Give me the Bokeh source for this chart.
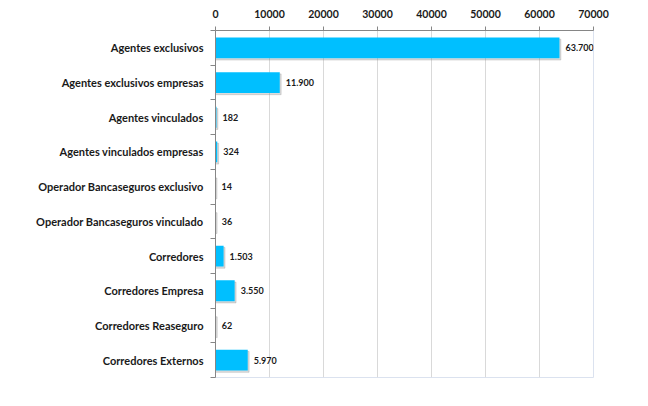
from bokeh.plotting import figure
from bokeh.models import Range1d, FixedTicker, ColumnDataSource
from bokeh.embed import file_html
from bokeh.resources import INLINE
from bokeh.core.properties import value

categories = [
    "Agentes exclusivos",
    "Agentes exclusivos empresas",
    "Agentes vinculados",
    "Agentes vinculados empresas",
    "Operador Bancaseguros exclusivo",
    "Operador Bancaseguros vinculado",
    "Corredores",
    "Corredores Empresa",
    "Corredores Reaseguro",
    "Corredores Externos",
]
values = [63700, 11900, 182, 324, 14, 36, 1503, 3550, 62, 5970]
x_ticks = [0, 10000, 20000, 30000, 40000, 50000, 60000, 70000]

n = len(categories)
centers = [i + 0.5 for i in range(n)]
labels = [f"{v:,}".replace(",", ".") for v in values]

src = ColumnDataSource(dict(
    y=centers, v=values, lab=labels,
    ys=[c + 0.05 for c in centers],
    vs=[v + 250 for v in values],
))

FONT = "Lato"
p = figure(width=632, height=390, output_backend="svg", toolbar_location=None,
           x_range=Range1d(0, 70000), y_range=Range1d(n, 0),
           x_axis_location="above",
           min_border_left=215, min_border_right=39, min_border_top=30, min_border_bottom=13)

# shadow
p.hbar(y="ys", right="vs", left=0, height=0.6, source=src, color="#8a8a8a", alpha=0.3)
p.hbar(y="y", right="v", left=0, height=0.6, source=src, fill_color="#00BFFF", line_color=None)
p.text(x="v", y="y", text="lab", source=src, x_offset=6, text_baseline="middle",
       text_font=value(FONT), text_font_style="bold", text_font_size="9px", text_color="#1a1a1a")

xa = p.xaxis[0]
xa.ticker = FixedTicker(ticks=x_ticks)
xa.major_label_text_font = FONT
xa.major_label_text_font_style = "bold"
xa.major_label_text_font_size = "10.5px"
xa.major_label_text_color = "#1a1a1a"
xa.axis_line_color = "#868686"
xa.major_tick_line_color = "#868686"
xa.major_tick_in = 0
xa.major_tick_out = 4
xa.minor_tick_line_color = None
xa.major_label_standoff = 9

ya = p.yaxis[0]
ya.ticker = FixedTicker(ticks=centers, minor_ticks=list(range(n + 1)))
ya.major_label_overrides = {c: cat for c, cat in zip(centers, categories)}
ya.major_label_text_font = FONT
ya.major_label_text_font_style = "bold"
ya.major_label_text_font_size = "11px"
ya.major_label_text_color = "#1a1a1a"
ya.major_tick_line_color = None
ya.minor_tick_line_color = "#868686"
ya.minor_tick_in = 0
ya.minor_tick_out = 5
ya.axis_line_color = "#868686"
ya.major_label_standoff = 6

p.xgrid.ticker = FixedTicker(ticks=x_ticks)
p.xgrid.grid_line_color = "#d9d9d9"
p.ygrid.grid_line_color = None
p.outline_line_color = "#dbe2ef"

open("out.html", "w").write(file_html(p, INLINE))
